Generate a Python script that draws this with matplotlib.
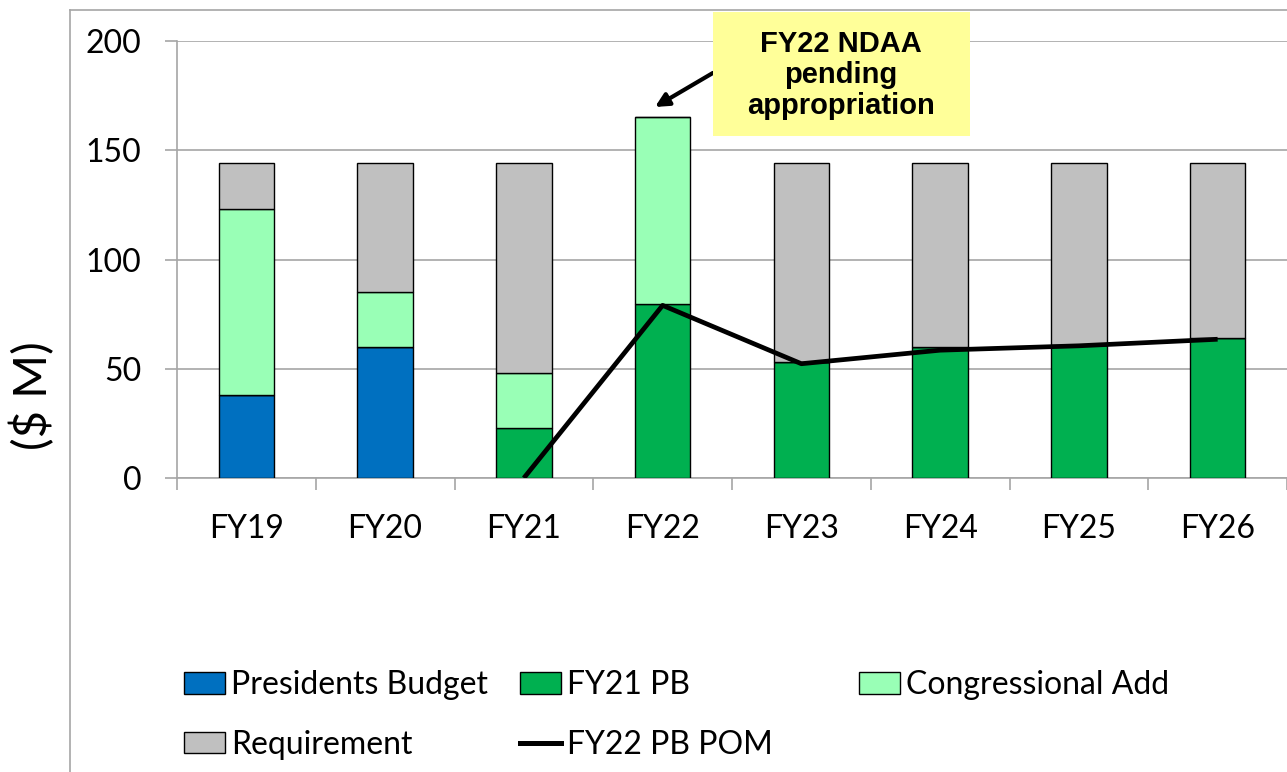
import numpy as np
import matplotlib
matplotlib.use("Agg")
import matplotlib.pyplot as plt
from matplotlib.patches import Patch, Rectangle
from matplotlib.lines import Line2D

years = ["FY19", "FY20", "FY21", "FY22", "FY23", "FY24", "FY25", "FY26"]
presidents_budget = [38, 60, 0, 0, 0, 0, 0, 0]
fy21_pb = [0, 0, 23, 79.5, 53, 60, 61, 64]
congressional_add = [85, 25, 25, 85.5, 0, 0, 0, 0]
requirement = [21, 59, 96, 0, 91, 84, 83, 80]
pom_years = ["FY21", "FY22", "FY23", "FY24", "FY25", "FY26"]
fy22_pb_pom = [0, 79, 52.3, 58.5, 60.5, 63.5]

c_blue = "#0070C0"
c_green = "#00B050"
c_light = "#99FFB6"
c_gray = "#C0C0C0"
grid_c = "#A6A6A6"

plt.rcParams['font.family'] = ['Lato', 'DejaVu Sans']

W, H = 1287, 772
fig = plt.figure(figsize=(W / 100, H / 100), dpi=100)
ax = fig.add_axes([177/W, 1 - 478/H, 1 - 177/W, 437/H])

x = np.arange(len(years))
w = 0.4
pb = np.array(presidents_budget)
g = np.array(fy21_pb)
ca = np.array(congressional_add)
rq = np.array(requirement)

ax.bar(x, pb, w, color=c_blue, edgecolor="black", lw=1, zorder=3)
ax.bar(x, g, w, bottom=pb, color=c_green, edgecolor="black", lw=1, zorder=3)
ax.bar(x, ca, w, bottom=pb + g, color=c_light, edgecolor="black", lw=1, zorder=3)
ax.bar(x, rq, w, bottom=pb + g + ca, color=c_gray, edgecolor="black", lw=1, zorder=3)

px = [years.index(y) for y in pom_years]
ax.plot(px, fy22_pb_pom, color="black", lw=3.4, zorder=4, solid_capstyle="butt")

ax.set_xlim(-0.5, len(years) - 0.5)
ax.set_ylim(0, 200)
ax.set_yticks([0, 50, 100, 150, 200])
ax.set_xticks(x)
ax.set_xticklabels(years)
ax.set_xticks(np.arange(-0.5, len(years), 1), minor=True)
ax.tick_params(axis="x", which="major", length=0, pad=26, labelsize=23)
ax.tick_params(axis="x", which="minor", length=8.5, width=1.2, color=grid_c)
ax.tick_params(axis="y", length=8.5, width=1.2, color=grid_c, pad=17, labelsize=23)
ax.yaxis.grid(True, color=grid_c, lw=1.2, zorder=0)
for s in ["top", "right"]:
    ax.spines[s].set_visible(False)
for s in ["left", "bottom"]:
    ax.spines[s].set_color(grid_c)
    ax.spines[s].set_linewidth(1.2)

fig.text(33/W, 1 - 396/H, "($ M)", rotation=90, fontsize=34, ha="center", va="center")

# annotation box
fig.add_artist(Rectangle((713/W, 1 - 136/H), 257/W, 124/H, transform=fig.transFigure,
                         facecolor="#FFFF99", edgecolor="none", zorder=5))
fig.text(841/W, 1 - 75/H, "FY22 NDAA\npending\nappropriation", fontsize=21,
         fontweight="bold", family=["Liberation Sans", "DejaVu Sans"],
         ha="center", va="center", linespacing=1.12, zorder=6)
ax.annotate("", xy=(2.945, 169.8), xytext=(3.363, 185.4),
            arrowprops=dict(arrowstyle="-|>", color="black", lw=3, mutation_scale=20,
                            shrinkA=0, shrinkB=0),
            zorder=6, annotation_clip=False)

# outer chart border
fig.add_artist(Line2D([70/W, 70/W], [0, 1 - 10/H], color=grid_c, lw=1.2))
fig.add_artist(Line2D([70/W, 1], [1 - 10/H, 1 - 10/H], color=grid_c, lw=1.2))

def box(c):
    return Patch(facecolor=c, edgecolor="black", lw=1)

leg_kw = dict(frameon=False, handlelength=1.28, handleheight=0.66,
              handletextpad=0.2, labelspacing=0.93, borderaxespad=0, borderpad=0,
              prop={"size": 23})
top = 1 - 670/H
fig.legend([box(c_blue), box(c_gray)], ["Presidents Budget", "Requirement"],
           loc="upper left", bbox_to_anchor=(184/W, top), **leg_kw)
fig.legend([box(c_green), Line2D([], [], color="black", lw=3.6)], ["FY21 PB", "FY22 PB POM"],
           loc="upper left", bbox_to_anchor=(520/W, top), **leg_kw)
fig.legend([box(c_light)], ["Congressional Add"],
           loc="upper left", bbox_to_anchor=(859/W, top), **leg_kw)

fig.savefig("out.png", dpi=100)
